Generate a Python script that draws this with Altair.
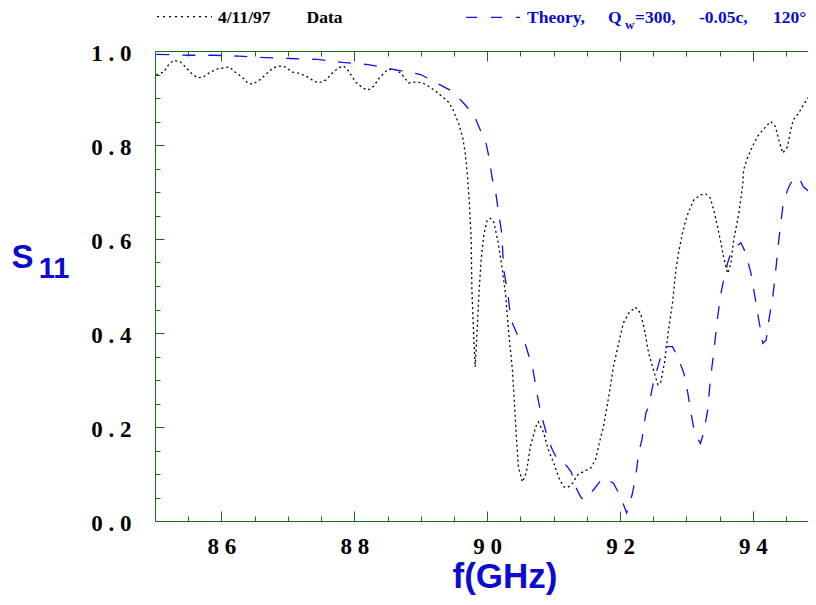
import altair as alt
import pandas as pd

# ---- data ----
data_f = [85.02, 85.13, 85.20, 85.28, 85.38, 85.46, 85.56, 85.64, 85.73, 85.83, 85.94, 86.03, 86.12, 86.21,
          86.32, 86.41, 86.48, 86.59, 86.69, 86.78, 86.86, 86.96, 87.07, 87.16, 87.27, 87.37, 87.46, 87.57,
          87.67, 87.76, 87.84, 87.91, 88.02, 88.13, 88.21, 88.29, 88.39, 88.50, 88.59, 88.70, 88.82, 88.92,
          89.03, 89.12, 89.22, 89.33, 89.42, 89.49, 89.57, 89.63, 89.67, 89.70, 89.73, 89.76, 89.77, 89.80,
          89.82, 89.85, 89.88, 89.91, 89.95, 90.00, 90.05, 90.10, 90.16, 90.23, 90.28, 90.32, 90.38, 90.41,
          90.44, 90.47, 90.53, 90.59, 90.65, 90.73, 90.77, 90.85, 90.92, 91.00, 91.08, 91.15, 91.21, 91.29,
          91.36, 91.45, 91.56, 91.63, 91.69, 91.75, 91.83, 91.90, 91.98, 92.05, 92.13, 92.23, 92.31, 92.37,
          92.43, 92.49, 92.57, 92.61, 92.67, 92.73, 92.79, 92.84, 92.88, 92.94, 92.99, 93.03, 93.11, 93.21,
          93.29, 93.36, 93.41, 93.47, 93.52, 93.56, 93.62, 93.67, 93.71, 93.79, 93.85, 93.86, 93.92, 93.99,
          94.07, 94.15, 94.22, 94.27, 94.34, 94.39, 94.45, 94.52, 94.57, 94.61, 94.69, 94.76, 94.84, 94.95]
data_s = [0.949, 0.955, 0.970, 0.980, 0.977, 0.966, 0.951, 0.943, 0.945, 0.955, 0.962, 0.964, 0.966, 0.955,
          0.943, 0.930, 0.930, 0.940, 0.953, 0.964, 0.968, 0.966, 0.955, 0.953, 0.947, 0.938, 0.932, 0.938,
          0.953, 0.964, 0.968, 0.958, 0.934, 0.921, 0.917, 0.925, 0.945, 0.960, 0.962, 0.953, 0.932, 0.934,
          0.932, 0.925, 0.915, 0.902, 0.891, 0.874, 0.846, 0.817, 0.783, 0.741, 0.683, 0.597, 0.492, 0.386,
          0.328, 0.407, 0.492, 0.556, 0.609, 0.640, 0.644, 0.636, 0.597, 0.534, 0.478, 0.407, 0.322, 0.252,
          0.179, 0.115, 0.083, 0.103, 0.158, 0.200, 0.211, 0.188, 0.152, 0.124, 0.092, 0.073, 0.071, 0.081,
          0.098, 0.105, 0.113, 0.130, 0.167, 0.200, 0.264, 0.328, 0.378, 0.421, 0.442, 0.455, 0.442, 0.406,
          0.358, 0.328, 0.290, 0.294, 0.337, 0.406, 0.464, 0.533, 0.570, 0.612, 0.640, 0.657, 0.683, 0.694,
          0.696, 0.687, 0.662, 0.625, 0.591, 0.561, 0.527, 0.548, 0.597, 0.655, 0.719, 0.747, 0.773, 0.796,
          0.818, 0.832, 0.843, 0.850, 0.839, 0.811, 0.783, 0.796, 0.832, 0.854, 0.868, 0.885, 0.902, 0.921]

theory_f = [85.02, 85.49, 85.88, 86.26, 86.66, 87.04, 87.45, 87.82, 88.21, 88.59, 89.00, 89.37, 89.48, 89.64,
            89.80, 89.90, 89.98, 90.02, 90.05, 90.08, 90.13, 90.16, 90.19, 90.22, 90.25, 90.31, 90.34, 90.38,
            90.46, 90.53, 90.58, 90.69, 90.76, 90.80, 90.85, 90.91, 90.98, 91.06, 91.14, 91.21, 91.27, 91.33,
            91.41, 91.45, 91.60, 91.74, 91.90, 92.01, 92.10, 92.13, 92.19, 92.25, 92.28, 92.33, 92.39, 92.43,
            92.48, 92.51, 92.57, 92.63, 92.69, 92.79, 92.87, 92.96, 93.02, 93.06, 93.11, 93.18, 93.21, 93.26,
            93.32, 93.36, 93.41, 93.47, 93.52, 93.56, 93.62, 93.67, 93.74, 93.82, 93.89, 93.97, 94.04, 94.09,
            94.15, 94.20, 94.24, 94.30, 94.35, 94.39, 94.45, 94.52, 94.57, 94.69, 94.76, 94.87, 94.91, 94.95]
theory_s = [0.993, 0.991, 0.991, 0.989, 0.986, 0.984, 0.982, 0.976, 0.971, 0.961, 0.950, 0.922, 0.914, 0.890,
            0.864, 0.831, 0.806, 0.779, 0.753, 0.726, 0.698, 0.668, 0.640, 0.612, 0.534, 0.485, 0.449, 0.421,
            0.395, 0.389, 0.374, 0.322, 0.264, 0.236, 0.208, 0.178, 0.152, 0.130, 0.126, 0.115, 0.103, 0.073,
            0.051, 0.045, 0.066, 0.092, 0.081, 0.051, 0.017, 0.030, 0.060, 0.109, 0.145, 0.173, 0.230, 0.243,
            0.279, 0.300, 0.328, 0.358, 0.371, 0.371, 0.349, 0.315, 0.273, 0.236, 0.198, 0.173, 0.165, 0.188,
            0.236, 0.300, 0.358, 0.434, 0.485, 0.513, 0.549, 0.571, 0.583, 0.592, 0.571, 0.528, 0.470, 0.427,
            0.378, 0.385, 0.427, 0.477, 0.541, 0.597, 0.668, 0.704, 0.719, 0.732, 0.711, 0.698, 0.726, 0.762]

x_major = [86, 88, 90, 92, 94]
x_major_labels = ["8 6", "8 8", "9 0", "9 2", "9 4"]
x_minor = [85.5, 86.5, 87, 87.5, 88.5, 89, 89.5, 90.5, 91, 91.5, 92.5, 93, 93.5, 94.5]
y_major = [0.0, 0.2, 0.4, 0.6, 0.8, 1.0]
y_major_labels = ["0 . 0", "0 . 2", "0 . 4", "0 . 6", "0 . 8", "1 . 0"]
y_minor = [0.05, 0.1, 0.15, 0.25, 0.3, 0.35, 0.45, 0.5, 0.55, 0.65, 0.7, 0.75, 0.85, 0.9, 0.95]

GREEN = "#176a1c"
BLUE_LINE = "#1010e8"
BLUE_TEXT = "#0c0cd0"
SERIF = "Liberation Serif"
SANS = "Liberation Sans"

# the page must not overflow 816 px: svg width = 147 + 653 = 800
W, H = 653, 470
PAD_L, PAD_T = 147, 43
TOTAL_H = 589
X_MAX = 94.83


def label_expr(values, labels):
    expr = "''"
    for v, lab in reversed(list(zip(values, labels))):
        expr = f"abs(datum.value - {v}) < 1e-6 ? '{lab}' : ({expr})"
    return expr


def tick_axis(orient, values, size):
    return alt.Axis(orient=orient, values=values, ticks=True, tickSize=size, tickColor=GREEN,
                    tickWidth=1, labels=False, domain=False, grid=False, offset=-size, title=None)


x_scale = alt.Scale(domain=[85, X_MAX], nice=False, zero=False)
y_scale = alt.Scale(domain=[0, 1], nice=False, zero=False)

data_df = pd.DataFrame({"f": data_f, "s": data_s})
theory_df = pd.DataFrame({"f": theory_f, "s": theory_s})

x_label_axis = alt.Axis(orient="bottom", values=x_major, labelExpr=label_expr(x_major, x_major_labels),
                        labelFont=SERIF, labelFontWeight="bold", labelFontSize=23, labelColor="black",
                        labelPadding=14, labelAngle=0, ticks=False, tickSize=0, domain=True,
                        domainColor=GREEN, domainWidth=1, grid=False, title=None)
y_label_axis = alt.Axis(orient="left", values=y_major, labelExpr=label_expr(y_major, y_major_labels),
                        labelFont=SERIF, labelFontWeight="bold", labelFontSize=23, labelColor="black",
                        labelPadding=24, labelOffset=2.5, ticks=False, tickSize=0, domain=True,
                        domainColor=GREEN, domainWidth=1, grid=False, title=None)

data_line = alt.Chart(data_df).mark_line(color="black", strokeDash=[2, 3], strokeWidth=1.3, clip=True).encode(
    x=alt.X("f:Q", scale=x_scale, axis=x_label_axis),
    y=alt.Y("s:Q", scale=y_scale, axis=y_label_axis),
)
theory_line = alt.Chart(theory_df).mark_line(color=BLUE_LINE, strokeDash=[13, 13], strokeWidth=1.3,
                                             clip=True).encode(
    x=alt.X("f:Q", scale=x_scale, axis=tick_axis("bottom", x_major, 10)),
    y=alt.Y("s:Q", scale=y_scale, axis=tick_axis("left", y_major, 9)),
)
minor_bl = alt.Chart(theory_df).mark_line(opacity=0).encode(
    x=alt.X("f:Q", scale=x_scale, axis=tick_axis("bottom", x_minor, 5)),
    y=alt.Y("s:Q", scale=y_scale, axis=tick_axis("left", y_minor, 5)),
)
major_t = alt.Chart(theory_df).mark_line(opacity=0).encode(
    x=alt.X("f:Q", scale=x_scale, axis=tick_axis("top", x_major, 10)),
    y=alt.Y("s:Q", scale=y_scale, axis=None),
)
minor_t = alt.Chart(theory_df).mark_line(opacity=0).encode(
    x=alt.X("f:Q", scale=x_scale, axis=tick_axis("top", x_minor, 5)),
    y=alt.Y("s:Q", scale=y_scale, axis=None),
)
top_frame = alt.Chart(theory_df).mark_line(opacity=0).encode(
    x=alt.X("f:Q", scale=x_scale, axis=alt.Axis(orient="top", ticks=False, labels=False, domain=True,
                                                 domainColor=GREEN, domainWidth=1, grid=False, title=None)),
    y=alt.Y("s:Q", scale=y_scale, axis=None),
)

one = alt.Data(values=[{"k": 1}])


def txt(text, x, y, size, color, font, align="left", weight="bold"):
    return alt.Chart(one).mark_text(text=text, align=align, baseline="alphabetic", font=font,
                                    fontSize=size, fontWeight=weight, color=color).encode(
        x=alt.value(x), y=alt.value(y))


def rule(x1, x2, y, color, dash):
    return alt.Chart(one).mark_rule(color=color, strokeDash=dash, strokeWidth=1.3).encode(
        x=alt.value(x1), x2=alt.value(x2), y=alt.value(y))


annotations = [
    # legend
    rule(2, 57, -34.3, "black", [2, 4]),
    txt("4/11/97", 63, -27.7, 17.5, "black", SERIF),
    txt("Data", 151.5, -27.7, 17.5, "black", SERIF),
    rule(311, 365, -33.7, BLUE_LINE, [11, 14]),
    txt("Theory,", 372, -27.7, 17.5, BLUE_TEXT, SERIF),
    txt("Q", 453, -27.7, 17.5, BLUE_TEXT, SERIF),
    txt("w", 470, -21.7, 13, BLUE_TEXT, SERIF),
    txt("=300,", 480, -27.7, 17.5, BLUE_TEXT, SERIF),
    txt("-0.05c,", 544, -27.7, 17.5, BLUE_TEXT, SERIF),
    txt("120°", 618, -27.7, 17.5, BLUE_TEXT, SERIF),
    # axis titles
    txt("S", -143.6, 217.3, 33, BLUE_TEXT, SANS),
    txt("11", -116.3, 227.3, 29, BLUE_TEXT, SANS),
    txt("f(GHz)", 350, 537, 35, BLUE_TEXT, SANS, align="center"),
]

chart = alt.layer(
    data_line, theory_line, minor_bl, major_t, minor_t, top_frame, *annotations
).resolve_axis(
    x="independent", y="independent"
).properties(
    width=W, height=H,
    autosize=alt.AutoSizeParams(type="none"),
    padding={"left": PAD_L, "top": PAD_T, "right": 0, "bottom": TOTAL_H - PAD_T - H},
).configure_view(strokeWidth=0).configure(background="white")

chart.save("out.html", embed_options={"renderer": "svg", "actions": False})
